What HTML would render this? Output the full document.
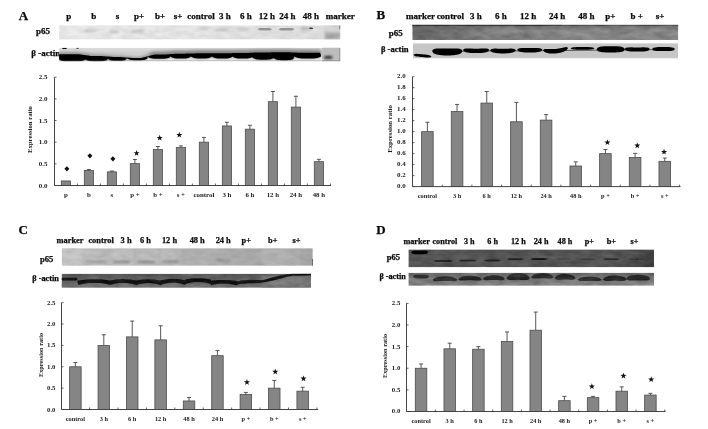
<!DOCTYPE html>
<html lang="en"><head><meta charset="utf-8"><title>p65 expression</title>
<style>
html,body{margin:0;padding:0;background:#fff;}
body{width:708px;height:429px;overflow:hidden;}
svg{display:block;}
text{font-family:"Liberation Serif","Times New Roman",serif;font-weight:bold;fill:#0a0a0a;stroke:#0a0a0a;stroke-width:0.25px;}
text.s{stroke:none;fill:#1a1a1a;}
</style></head><body>
<svg width="708" height="429" viewBox="0 0 708 429">
<defs>
<filter id="b05" x="-20%" y="-60%" width="140%" height="220%"><feGaussianBlur stdDeviation="0.5"/></filter>
<filter id="b1" x="-20%" y="-80%" width="140%" height="260%"><feGaussianBlur stdDeviation="0.9"/></filter>
<filter id="b2" x="-20%" y="-100%" width="140%" height="300%"><feGaussianBlur stdDeviation="1.6"/></filter>
<filter id="nz" x="0" y="0" width="100%" height="100%"><feTurbulence type="fractalNoise" baseFrequency="0.09 0.22" numOctaves="3" seed="7" result="t"/><feColorMatrix in="t" type="matrix" values="0 0 0 0 0  0 0 0 0 0  0 0 0 0 0  1.6 0 0 0 -0.45"/></filter>
<filter id="nzw" x="0" y="0" width="100%" height="100%"><feTurbulence type="fractalNoise" baseFrequency="0.07 0.18" numOctaves="3" seed="23" result="t"/><feColorMatrix in="t" type="matrix" values="0 0 0 0 1  0 0 0 0 1  0 0 0 0 1  1.6 0 0 0 -0.45"/></filter>
<linearGradient id="gAp" x1="0" x2="1" y1="0" y2="0"><stop offset="0" stop-color="#ececec"/><stop offset="0.5" stop-color="#e6e6e6"/><stop offset="1" stop-color="#dedede"/></linearGradient>
<linearGradient id="gAb" x1="0" x2="0" y1="0" y2="1"><stop offset="0" stop-color="#dcdcdc"/><stop offset="0.4" stop-color="#cfcfcf"/><stop offset="0.6" stop-color="#e0e0e0"/><stop offset="1" stop-color="#f4f4f4"/></linearGradient>
<linearGradient id="gBp" x1="0" x2="1" y1="0" y2="0"><stop offset="0" stop-color="#6e6e6e"/><stop offset="0.4" stop-color="#858585"/><stop offset="1" stop-color="#8e8e8e"/></linearGradient>
<linearGradient id="gBpt" x1="0" x2="0" y1="0" y2="1"><stop offset="0" stop-color="#222" stop-opacity="0.9"/><stop offset="0.12" stop-color="#444" stop-opacity="0.35"/><stop offset="0.4" stop-color="#555" stop-opacity="0"/><stop offset="1" stop-color="#666" stop-opacity="0.1"/></linearGradient>
<linearGradient id="gCp" x1="0" x2="1" y1="0" y2="0"><stop offset="0" stop-color="#c2c2c2"/><stop offset="0.5" stop-color="#b2b2b2"/><stop offset="1" stop-color="#a6a6a6"/></linearGradient>
<linearGradient id="gCb" x1="0" x2="0" y1="0" y2="1"><stop offset="0" stop-color="#585858"/><stop offset="1" stop-color="#686868"/></linearGradient>
<linearGradient id="gDp" x1="0" x2="1" y1="0" y2="0"><stop offset="0" stop-color="#565656"/><stop offset="0.85" stop-color="#555"/><stop offset="1" stop-color="#424242"/></linearGradient>
<linearGradient id="gDb" x1="0" x2="0" y1="0" y2="1"><stop offset="0" stop-color="#686868"/><stop offset="1" stop-color="#868686"/></linearGradient>
</defs>
<rect width="708" height="429" fill="#fff"/>

<text x="18.8" y="19.6" font-size="13">A</text>
<text x="68.7" y="19.2" font-size="9" text-anchor="middle">p</text>
<text x="93.7" y="19.2" font-size="9" text-anchor="middle">b</text>
<text x="117.5" y="19.2" font-size="9" text-anchor="middle">s</text>
<text x="139.0" y="19.2" font-size="9" text-anchor="middle">p+</text>
<text x="160.0" y="19.2" font-size="9" text-anchor="middle">b+</text>
<text x="178.0" y="19.2" font-size="9" text-anchor="middle">s+</text>
<text x="201.0" y="19.2" font-size="9" text-anchor="middle">control</text>
<text x="225.0" y="19.2" font-size="9" text-anchor="middle">3 h</text>
<text x="246.0" y="19.2" font-size="9" text-anchor="middle">6 h</text>
<text x="267.0" y="19.2" font-size="9" text-anchor="middle">12 h</text>
<text x="287.3" y="19.2" font-size="9" text-anchor="middle">24 h</text>
<text x="311.0" y="19.2" font-size="9" text-anchor="middle">48 h</text>
<text x="340.3" y="19.2" font-size="9" text-anchor="middle">marker</text>
<text x="36.0" y="34.4" font-size="9">p65</text>
<text x="31.3" y="56.2" font-size="9">β -actin</text>
<clipPath id="c1"><rect x="59.1" y="25.3" width="281.2" height="14.2"/></clipPath>
<g clip-path="url(#c1)"><rect x="59.1" y="25.3" width="281.2" height="14.2" fill="url(#gAp)"/>
<polygon points="84.0,30.7 85.6,29.6 87.2,29.4 88.9,29.4 90.5,29.4 92.1,29.4 93.8,29.4 95.4,29.6 97.0,30.7 97.0,30.7 95.4,31.8 93.8,32.0 92.1,32.0 90.5,32.0 88.9,32.0 87.2,32.0 85.6,31.8 84.0,30.7" fill="#c6c6c6" filter="url(#b1)"/>
<polygon points="109.0,31.7 110.6,30.6 112.1,30.4 113.7,30.4 115.3,30.4 116.9,30.4 118.4,30.6 120.0,31.7 120.0,31.7 118.4,32.8 116.9,33.0 115.3,33.0 113.7,33.0 112.1,33.0 110.6,32.8 109.0,31.7" fill="#c4c4c4" filter="url(#b1)"/>
<polygon points="130.0,31.0 131.5,30.0 133.0,29.8 134.5,29.7 136.0,29.7 137.5,29.7 139.0,29.7 140.5,29.7 142.0,29.8 143.5,30.0 145.0,31.0 145.0,31.0 143.5,32.0 142.0,32.2 140.5,32.3 139.0,32.3 137.5,32.3 136.0,32.3 134.5,32.3 133.0,32.2 131.5,32.0 130.0,31.0" fill="#c2c2c2" filter="url(#b1)"/>
<polygon points="155.0,30.0 155.8,28.8 156.7,28.7 157.5,28.7 158.3,28.7 159.2,28.8 160.0,30.0 160.0,30.0 159.2,31.2 158.3,31.3 157.5,31.3 156.7,31.3 155.8,31.2 155.0,30.0" fill="#dcdcdc" filter="url(#b1)"/>
<polygon points="199.0,29.0 200.7,27.8 202.3,27.7 204.0,27.7 205.7,27.7 207.3,27.8 209.0,29.0 209.0,29.0 207.3,30.2 205.7,30.3 204.0,30.3 202.3,30.3 200.7,30.2 199.0,29.0" fill="#cecece" filter="url(#b1)"/>
<polygon points="215.0,30.0 216.6,29.0 218.1,28.8 219.7,28.7 221.2,28.7 222.8,28.7 224.3,28.7 225.9,28.8 227.4,29.0 229.0,30.0 229.0,30.0 227.4,31.0 225.9,31.2 224.3,31.3 222.8,31.3 221.2,31.3 219.7,31.3 218.1,31.2 216.6,31.0 215.0,30.0" fill="#c6c6c6" filter="url(#b1)"/>
<polygon points="236.0,29.5 237.6,28.5 239.1,28.3 240.7,28.2 242.2,28.2 243.8,28.2 245.3,28.2 246.9,28.3 248.4,28.5 250.0,29.5 250.0,29.5 248.4,30.5 246.9,30.7 245.3,30.8 243.8,30.8 242.2,30.8 240.7,30.8 239.1,30.7 237.6,30.5 236.0,29.5" fill="#d0d0d0" filter="url(#b1)"/>
<polygon points="300.0,29.0 301.5,27.9 303.0,27.7 304.5,27.7 306.0,27.7 307.5,27.7 309.0,27.7 310.5,27.9 312.0,29.0 312.0,29.0 310.5,30.1 309.0,30.3 307.5,30.3 306.0,30.3 304.5,30.3 303.0,30.3 301.5,30.1 300.0,29.0" fill="#bdbdbd" filter="url(#b1)"/>
<polygon points="257.5,29.3 259.1,28.3 260.7,28.1 262.3,28.0 263.9,28.0 265.6,28.0 267.2,28.0 268.8,28.1 270.4,28.3 272.0,29.3 272.0,29.3 270.4,30.3 268.8,30.5 267.2,30.6 265.6,30.6 263.9,30.6 262.3,30.6 260.7,30.5 259.1,30.3 257.5,29.3" fill="#909090" filter="url(#b05)"/>
<polygon points="278.5,29.3 280.1,28.3 281.7,28.1 283.3,28.0 284.9,28.0 286.5,28.0 288.1,28.0 289.7,28.0 291.3,28.1 292.9,28.3 294.5,29.3 294.5,29.3 292.9,30.3 291.3,30.5 289.7,30.6 288.1,30.6 286.5,30.6 284.9,30.6 283.3,30.6 281.7,30.5 280.1,30.3 278.5,29.3" fill="#909090" filter="url(#b05)"/>
<polygon points="309.0,28.3 309.7,27.7 310.4,27.6 311.1,27.6 311.9,27.6 312.6,27.7 313.3,28.3 313.3,28.3 312.6,28.9 311.9,29.0 311.1,29.0 310.4,29.0 309.7,28.9 309.0,28.3" fill="#333" filter="url(#b05)"/>
<rect x="324" y="25" width="17" height="15" fill="#d6d6d6" filter="url(#b1)"/>
<rect x="325" y="32.8" width="15" height="6" fill="#a4a4a4" filter="url(#b1)"/>
<rect x="339.6" y="25.3" width="0.8" height="4" fill="#333"/>
<rect x="59.1" y="25.3" width="281.2" height="14.2" filter="url(#nz)" opacity="0.07"/>
<rect x="59.1" y="25.3" width="281.2" height="14.2" filter="url(#nzw)" opacity="0.15"/>
</g>
<clipPath id="c2"><rect x="59.1" y="47.7" width="281.2" height="13.6"/></clipPath>
<g clip-path="url(#c2)"><rect x="59.1" y="47.7" width="281.2" height="13.6" fill="url(#gAb)"/>
<polygon points="59.0,52.6 60.0,52.6 61.0,52.6 62.0,52.6 63.1,52.6 64.1,52.6 65.1,52.6 66.1,52.6 67.1,52.6 68.1,52.6 69.2,52.6 70.2,52.6 71.2,52.6 72.2,52.6 73.2,52.6 74.2,52.6 75.2,52.6 76.3,52.6 77.3,52.6 78.3,52.6 79.3,52.7 80.3,52.9 81.3,53.0 82.4,53.2 83.4,53.3 84.4,53.4 85.4,53.6 86.4,53.7 87.5,53.8 88.5,54.0 89.5,54.1 90.5,54.3 91.6,54.4 92.6,54.4 93.6,54.4 94.6,54.4 95.7,54.4 96.7,54.4 97.7,54.4 98.8,54.4 99.8,54.4 100.8,54.4 101.8,54.5 102.9,54.6 103.9,54.6 104.9,54.7 105.9,54.8 107.0,54.9 108.0,54.9 109.0,55.0 110.0,55.1 111.0,55.2 112.0,55.2 113.0,55.3 114.0,55.4 115.0,55.4 116.0,55.4 117.0,55.4 118.0,55.4 119.0,55.4 120.0,55.4 121.0,55.5 122.0,55.6 123.0,55.6 124.0,55.7 125.0,55.8 126.0,55.9 127.0,55.9 128.0,56.0 129.0,56.1 130.0,56.2 131.0,56.2 132.0,56.3 133.0,56.4 134.0,56.4 135.0,56.4 136.0,56.4 137.0,56.4 138.0,56.4 139.0,56.4 140.0,56.4 141.0,56.4 142.0,56.1 143.0,55.9 144.0,55.6 145.0,55.4 146.0,55.1 147.0,54.8 148.0,54.6 149.0,54.3 150.0,52.4 151.1,52.2 152.1,51.9 153.1,51.7 154.1,51.4 155.2,51.4 156.2,51.4 157.2,51.4 158.2,51.4 159.2,51.4 160.3,51.4 161.3,51.4 162.3,51.4 163.3,51.4 164.4,51.3 165.4,51.3 166.4,51.2 167.4,51.1 168.5,51.1 169.5,51.0 170.5,50.9 171.5,50.8 172.6,50.8 173.6,50.7 174.6,50.6 175.6,50.6 176.7,50.5 177.7,50.5 178.7,50.5 179.7,50.5 180.8,50.5 181.8,50.5 182.8,50.5 183.8,50.5 184.8,50.5 185.9,50.4 186.9,50.4 187.9,50.4 188.9,50.3 190.0,50.3 191.0,50.3 192.0,50.3 193.0,50.2 194.0,50.2 195.0,50.2 196.0,50.1 197.0,50.1 198.0,50.1 199.0,50.1 200.0,50.1 201.0,50.1 202.0,50.1 203.0,50.1 204.0,50.1 205.0,50.1 206.0,50.1 207.0,50.1 208.0,50.1 209.0,50.1 210.0,50.1 211.0,50.1 212.0,50.1 213.0,50.1 214.1,50.1 215.1,50.1 216.1,50.1 217.2,50.1 218.2,50.1 219.2,50.1 220.2,50.1 221.3,50.1 222.3,50.1 223.3,50.1 224.4,50.1 225.4,50.1 226.4,50.1 227.4,50.1 228.5,50.0 229.5,50.0 230.5,50.0 231.6,50.0 232.6,49.9 233.6,49.9 234.6,49.9 235.6,49.9 236.6,49.8 237.7,49.8 238.7,49.8 239.7,49.8 240.7,49.8 241.7,49.8 242.7,49.8 243.7,49.8 244.7,49.8 245.7,49.8 246.7,49.8 247.8,49.7 248.8,49.7 249.8,49.6 250.8,49.6 251.8,49.5 252.8,49.5 253.8,49.4 254.8,49.4 255.8,49.3 256.8,49.3 257.8,49.2 258.9,49.2 259.9,49.2 260.9,49.2 261.9,49.2 262.9,49.2 263.9,49.2 264.9,49.2 265.9,49.2 266.9,49.2 267.9,49.2 269.0,49.2 270.0,49.2 271.0,49.1 272.0,49.1 273.0,49.1 274.0,49.1 275.0,49.1 276.0,49.1 277.1,49.0 278.1,49.0 279.1,49.0 280.1,49.0 281.1,49.0 282.2,49.0 283.2,49.0 284.2,49.0 285.2,49.0 286.2,49.0 287.3,49.0 288.3,49.0 289.3,49.1 290.3,49.1 291.3,49.2 292.4,49.2 293.4,49.3 294.4,49.3 295.4,49.4 296.4,49.4 297.5,49.5 298.5,49.5 299.5,49.6 300.5,49.6 301.6,49.6 302.6,49.6 303.6,49.6 304.6,49.6 305.7,49.6 306.7,49.6 307.7,49.6 308.7,49.6 309.7,49.6 310.8,49.6 311.8,49.6 312.8,49.6 313.8,49.6 314.9,49.6 315.9,49.6 316.9,49.6 317.9,49.6 319.0,49.6 320.0,49.6 321.0,51.8 321.0,56.5 320.0,57.0 319.0,57.5 317.9,57.8 316.9,58.0 315.9,58.2 314.9,58.3 313.8,58.4 312.8,58.5 311.8,58.5 310.8,58.5 309.7,58.5 308.7,58.5 307.7,58.5 306.7,58.5 305.7,58.5 304.6,58.5 303.6,58.5 302.6,58.5 301.6,58.4 300.5,58.3 299.5,58.2 298.5,58.0 297.5,57.8 296.4,57.5 295.4,57.0 294.4,56.5 293.4,58.9 292.4,59.4 291.3,59.7 290.3,59.9 289.3,60.1 288.3,60.1 287.3,60.2 286.2,60.2 285.2,60.2 284.2,60.2 283.2,60.2 282.2,60.2 281.1,60.2 280.1,60.1 279.1,60.1 278.1,59.9 277.1,59.7 276.0,59.4 275.0,58.9 274.0,58.2 273.0,58.4 272.0,58.8 271.0,59.2 270.0,59.4 269.0,59.5 267.9,59.6 266.9,59.7 265.9,59.7 264.9,59.7 263.9,59.7 262.9,59.7 261.9,59.7 260.9,59.7 259.9,59.7 258.9,59.6 257.8,59.5 256.8,59.4 255.8,59.2 254.8,58.8 253.8,58.4 252.8,57.7 251.8,57.3 250.8,57.8 249.8,58.1 248.8,58.3 247.8,58.5 246.7,58.5 245.7,58.6 244.7,58.6 243.7,58.6 242.7,58.6 241.7,58.6 240.7,58.6 239.7,58.6 238.7,58.5 237.7,58.5 236.6,58.3 235.6,58.1 234.6,57.8 233.6,57.3 232.6,56.6 231.6,57.2 230.5,57.7 229.5,58.0 228.5,58.2 227.4,58.4 226.4,58.4 225.4,58.5 224.4,58.5 223.3,58.5 222.3,58.5 221.3,58.5 220.2,58.5 219.2,58.5 218.2,58.4 217.2,58.4 216.1,58.2 215.1,58.0 214.1,57.7 213.0,57.2 212.0,56.5 211.0,57.2 210.0,57.6 209.0,58.0 208.0,58.2 207.0,58.3 206.0,58.4 205.0,58.5 204.0,58.5 203.0,58.5 202.0,58.5 201.0,58.5 200.0,58.5 199.0,58.5 198.0,58.5 197.0,58.4 196.0,58.3 195.0,58.2 194.0,58.0 193.0,57.6 192.0,57.2 191.0,56.5 190.0,57.2 188.9,57.7 187.9,58.0 186.9,58.2 185.9,58.4 184.8,58.4 183.8,58.5 182.8,58.5 181.8,58.5 180.8,58.5 179.7,58.5 178.7,58.5 177.7,58.5 176.7,58.4 175.6,58.4 174.6,58.2 173.6,58.0 172.6,57.7 171.5,57.2 170.5,56.5 169.5,57.4 168.5,57.9 167.4,58.2 166.4,58.5 165.4,58.6 164.4,58.7 163.3,58.8 162.3,58.8 161.3,58.8 160.3,58.8 159.2,58.8 158.2,58.8 157.2,58.8 156.2,58.8 155.2,58.8 154.1,58.7 153.1,58.6 152.1,58.5 151.1,58.2 150.0,57.9 149.0,57.4 148.0,56.8 147.0,58.9 146.0,59.3 145.0,59.7 144.0,59.9 143.0,60.0 142.0,60.1 141.0,60.2 140.0,60.2 139.0,60.2 138.0,60.2 137.0,60.2 136.0,60.2 135.0,60.2 134.0,60.2 133.0,60.1 132.0,60.0 131.0,59.9 130.0,59.7 129.0,59.3 128.0,58.9 127.0,58.2 126.0,59.5 125.0,60.0 124.0,60.4 123.0,60.6 122.0,60.7 121.0,60.8 120.0,60.8 119.0,60.8 118.0,60.8 117.0,60.8 116.0,60.8 115.0,60.8 114.0,60.8 113.0,60.7 112.0,60.6 111.0,60.4 110.0,60.0 109.0,59.5 108.0,58.8 107.0,60.0 105.9,60.5 104.9,60.8 103.9,61.1 102.9,61.2 101.8,61.3 100.8,61.4 99.8,61.4 98.8,61.4 97.7,61.4 96.7,61.4 95.7,61.4 94.6,61.4 93.6,61.4 92.6,61.4 91.6,61.3 90.5,61.2 89.5,61.1 88.5,60.8 87.5,60.5 86.4,60.0 85.4,59.4 84.4,60.1 83.4,60.6 82.4,60.9 81.3,61.1 80.3,61.3 79.3,61.4 78.3,61.5 77.3,61.6 76.3,61.6 75.2,61.6 74.2,61.6 73.2,61.6 72.2,61.6 71.2,61.6 70.2,61.6 69.2,61.6 68.1,61.6 67.1,61.6 66.1,61.5 65.1,61.4 64.1,61.3 63.1,61.1 62.0,60.9 61.0,60.6 60.0,60.1 59.0,59.6" fill="#555" opacity="0.6" filter="url(#b2)"/>
<polygon points="59.0,54.2 60.0,54.2 61.0,54.2 62.0,54.2 63.1,54.2 64.1,54.2 65.1,54.2 66.1,54.2 67.1,54.2 68.1,54.2 69.2,54.2 70.2,54.2 71.2,54.2 72.2,54.2 73.2,54.2 74.2,54.2 75.2,54.2 76.3,54.2 77.3,54.2 78.3,54.2 79.3,54.3 80.3,54.5 81.3,54.6 82.4,54.8 83.4,54.9 84.4,55.0 85.4,55.2 86.4,55.3 87.5,55.4 88.5,55.6 89.5,55.7 90.5,55.9 91.6,56.0 92.6,56.0 93.6,56.0 94.6,56.0 95.7,56.0 96.7,56.0 97.7,56.0 98.8,56.0 99.8,56.0 100.8,56.0 101.8,56.1 102.9,56.2 103.9,56.2 104.9,56.3 105.9,56.4 107.0,56.5 108.0,56.5 109.0,56.6 110.0,56.7 111.0,56.8 112.0,56.8 113.0,56.9 114.0,57.0 115.0,57.0 116.0,57.0 117.0,57.0 118.0,57.0 119.0,57.0 120.0,57.0 121.0,57.1 122.0,57.2 123.0,57.2 124.0,57.3 125.0,57.4 126.0,57.5 127.0,57.5 128.0,57.6 129.0,57.7 130.0,57.8 131.0,57.8 132.0,57.9 133.0,58.0 134.0,58.0 135.0,58.0 136.0,58.0 137.0,58.0 138.0,58.0 139.0,58.0 140.0,58.0 141.0,58.0 142.0,57.7 143.0,57.5 144.0,57.2 145.0,57.0 146.0,56.7 147.0,56.4 148.0,56.2 149.0,55.9 150.0,55.6 151.1,55.4 152.1,55.1 153.1,54.9 154.1,54.6 155.2,54.6 156.2,54.6 157.2,54.6 158.2,54.6 159.2,54.6 160.3,54.6 161.3,54.6 162.3,54.6 163.3,54.6 164.4,54.5 165.4,54.5 166.4,54.4 167.4,54.3 168.5,54.3 169.5,54.2 170.5,54.1 171.5,54.0 172.6,54.0 173.6,53.9 174.6,53.8 175.6,53.8 176.7,53.7 177.7,53.7 178.7,53.7 179.7,53.7 180.8,53.7 181.8,53.7 182.8,53.7 183.8,53.7 184.8,53.7 185.9,53.6 186.9,53.6 187.9,53.6 188.9,53.5 190.0,53.5 191.0,53.5 192.0,53.5 193.0,53.4 194.0,53.4 195.0,53.4 196.0,53.3 197.0,53.3 198.0,53.3 199.0,53.3 200.0,53.3 201.0,53.3 202.0,53.3 203.0,53.3 204.0,53.3 205.0,53.3 206.0,53.3 207.0,53.3 208.0,53.3 209.0,53.3 210.0,53.3 211.0,53.3 212.0,53.3 213.0,53.3 214.1,53.3 215.1,53.3 216.1,53.3 217.2,53.3 218.2,53.3 219.2,53.3 220.2,53.3 221.3,53.3 222.3,53.3 223.3,53.3 224.4,53.3 225.4,53.3 226.4,53.3 227.4,53.3 228.5,53.2 229.5,53.2 230.5,53.2 231.6,53.2 232.6,53.1 233.6,53.1 234.6,53.1 235.6,53.1 236.6,53.0 237.7,53.0 238.7,53.0 239.7,53.0 240.7,53.0 241.7,53.0 242.7,53.0 243.7,53.0 244.7,53.0 245.7,53.0 246.7,53.0 247.8,52.9 248.8,52.9 249.8,52.8 250.8,52.8 251.8,52.7 252.8,52.7 253.8,52.6 254.8,52.6 255.8,52.5 256.8,52.5 257.8,52.4 258.9,52.4 259.9,52.4 260.9,52.4 261.9,52.4 262.9,52.4 263.9,52.4 264.9,52.4 265.9,52.4 266.9,52.4 267.9,52.4 269.0,52.4 270.0,52.4 271.0,52.3 272.0,52.3 273.0,52.3 274.0,52.3 275.0,52.3 276.0,52.3 277.1,52.2 278.1,52.2 279.1,52.2 280.1,52.2 281.1,52.2 282.2,52.2 283.2,52.2 284.2,52.2 285.2,52.2 286.2,52.2 287.3,52.2 288.3,52.2 289.3,52.3 290.3,52.3 291.3,52.4 292.4,52.4 293.4,52.5 294.4,52.5 295.4,52.6 296.4,52.6 297.5,52.7 298.5,52.7 299.5,52.8 300.5,52.8 301.6,52.8 302.6,52.8 303.6,52.8 304.6,52.8 305.7,52.8 306.7,52.8 307.7,52.8 308.7,52.8 309.7,52.8 310.8,52.8 311.8,52.8 312.8,52.8 313.8,52.8 314.9,52.8 315.9,52.8 316.9,52.8 317.9,52.8 319.0,52.8 320.0,52.8 321.0,55.0 321.0,56.5 320.0,57.0 319.0,57.5 317.9,57.8 316.9,58.0 315.9,58.2 314.9,58.3 313.8,58.4 312.8,58.5 311.8,58.5 310.8,58.5 309.7,58.5 308.7,58.5 307.7,58.5 306.7,58.5 305.7,58.5 304.6,58.5 303.6,58.5 302.6,58.5 301.6,58.4 300.5,58.3 299.5,58.2 298.5,58.0 297.5,57.8 296.4,57.5 295.4,57.0 294.4,56.5 293.4,58.9 292.4,59.4 291.3,59.7 290.3,59.9 289.3,60.1 288.3,60.1 287.3,60.2 286.2,60.2 285.2,60.2 284.2,60.2 283.2,60.2 282.2,60.2 281.1,60.2 280.1,60.1 279.1,60.1 278.1,59.9 277.1,59.7 276.0,59.4 275.0,58.9 274.0,58.2 273.0,58.4 272.0,58.8 271.0,59.2 270.0,59.4 269.0,59.5 267.9,59.6 266.9,59.7 265.9,59.7 264.9,59.7 263.9,59.7 262.9,59.7 261.9,59.7 260.9,59.7 259.9,59.7 258.9,59.6 257.8,59.5 256.8,59.4 255.8,59.2 254.8,58.8 253.8,58.4 252.8,57.7 251.8,57.3 250.8,57.8 249.8,58.1 248.8,58.3 247.8,58.5 246.7,58.5 245.7,58.6 244.7,58.6 243.7,58.6 242.7,58.6 241.7,58.6 240.7,58.6 239.7,58.6 238.7,58.5 237.7,58.5 236.6,58.3 235.6,58.1 234.6,57.8 233.6,57.3 232.6,56.6 231.6,57.2 230.5,57.7 229.5,58.0 228.5,58.2 227.4,58.4 226.4,58.4 225.4,58.5 224.4,58.5 223.3,58.5 222.3,58.5 221.3,58.5 220.2,58.5 219.2,58.5 218.2,58.4 217.2,58.4 216.1,58.2 215.1,58.0 214.1,57.7 213.0,57.2 212.0,56.5 211.0,57.2 210.0,57.6 209.0,58.0 208.0,58.2 207.0,58.3 206.0,58.4 205.0,58.5 204.0,58.5 203.0,58.5 202.0,58.5 201.0,58.5 200.0,58.5 199.0,58.5 198.0,58.5 197.0,58.4 196.0,58.3 195.0,58.2 194.0,58.0 193.0,57.6 192.0,57.2 191.0,56.5 190.0,57.2 188.9,57.7 187.9,58.0 186.9,58.2 185.9,58.4 184.8,58.4 183.8,58.5 182.8,58.5 181.8,58.5 180.8,58.5 179.7,58.5 178.7,58.5 177.7,58.5 176.7,58.4 175.6,58.4 174.6,58.2 173.6,58.0 172.6,57.7 171.5,57.2 170.5,56.5 169.5,57.4 168.5,57.9 167.4,58.2 166.4,58.5 165.4,58.6 164.4,58.7 163.3,58.8 162.3,58.8 161.3,58.8 160.3,58.8 159.2,58.8 158.2,58.8 157.2,58.8 156.2,58.8 155.2,58.8 154.1,58.7 153.1,58.6 152.1,58.5 151.1,58.2 150.0,57.9 149.0,57.4 148.0,56.8 147.0,58.9 146.0,59.3 145.0,59.7 144.0,59.9 143.0,60.0 142.0,60.1 141.0,60.2 140.0,60.2 139.0,60.2 138.0,60.2 137.0,60.2 136.0,60.2 135.0,60.2 134.0,60.2 133.0,60.1 132.0,60.0 131.0,59.9 130.0,59.7 129.0,59.3 128.0,58.9 127.0,58.2 126.0,59.5 125.0,60.0 124.0,60.4 123.0,60.6 122.0,60.7 121.0,60.8 120.0,60.8 119.0,60.8 118.0,60.8 117.0,60.8 116.0,60.8 115.0,60.8 114.0,60.8 113.0,60.7 112.0,60.6 111.0,60.4 110.0,60.0 109.0,59.5 108.0,58.8 107.0,60.0 105.9,60.5 104.9,60.8 103.9,61.1 102.9,61.2 101.8,61.3 100.8,61.4 99.8,61.4 98.8,61.4 97.7,61.4 96.7,61.4 95.7,61.4 94.6,61.4 93.6,61.4 92.6,61.4 91.6,61.3 90.5,61.2 89.5,61.1 88.5,60.8 87.5,60.5 86.4,60.0 85.4,59.4 84.4,60.1 83.4,60.6 82.4,60.9 81.3,61.1 80.3,61.3 79.3,61.4 78.3,61.5 77.3,61.6 76.3,61.6 75.2,61.6 74.2,61.6 73.2,61.6 72.2,61.6 71.2,61.6 70.2,61.6 69.2,61.6 68.1,61.6 67.1,61.6 66.1,61.5 65.1,61.4 64.1,61.3 63.1,61.1 62.0,60.9 61.0,60.6 60.0,60.1 59.0,59.6" fill="#000" filter="url(#b05)"/>
<rect x="322.3" y="47" width="19" height="15" fill="#bdbdbd"/>
<polygon points="323.5,57.3 325.1,55.9 326.7,55.7 328.2,55.7 329.8,55.7 331.4,55.9 333.0,57.3 333.0,57.3 331.4,58.7 329.8,58.9 328.2,58.9 326.7,58.9 325.1,58.7 323.5,57.3" fill="#3a3a3a" filter="url(#b1)"/>
<path d="M59 61H340M339.9 47.7V61.3" stroke="#666" stroke-width="0.6" fill="none"/>
<polygon points="62.0,48.4 62.8,47.8 63.7,47.7 64.5,47.7 65.3,47.7 66.2,47.8 67.0,48.4 67.0,48.4 66.2,49.0 65.3,49.1 64.5,49.1 63.7,49.1 62.8,49.0 62.0,48.4" fill="#111" filter="url(#b05)"/>
<polygon points="76.0,48.2 76.5,47.8 77.0,47.7 77.5,47.7 78.0,47.7 78.5,47.8 79.0,48.2 79.0,48.2 78.5,48.6 78.0,48.7 77.5,48.7 77.0,48.7 76.5,48.6 76.0,48.2" fill="#222" filter="url(#b05)"/>
</g>
<text x="376.4" y="19.4" font-size="13">B</text>
<text x="420.6" y="19.4" font-size="9" text-anchor="middle">marker</text>
<text x="450.3" y="19.4" font-size="9" text-anchor="middle">control</text>
<text x="476.0" y="19.4" font-size="9" text-anchor="middle">3 h</text>
<text x="500.8" y="19.4" font-size="9" text-anchor="middle">6 h</text>
<text x="528.2" y="19.4" font-size="9" text-anchor="middle">12 h</text>
<text x="557.2" y="19.4" font-size="9" text-anchor="middle">24 h</text>
<text x="586.5" y="19.4" font-size="9" text-anchor="middle">48 h</text>
<text x="610.3" y="19.4" font-size="9" text-anchor="middle">p+</text>
<text x="636.8" y="19.4" font-size="9" text-anchor="middle">b +</text>
<text x="660.0" y="19.4" font-size="9" text-anchor="middle">s+</text>
<text x="388.7" y="36.0" font-size="9">p65</text>
<text x="380.9" y="52.3" font-size="8.6">β -actin</text>
<clipPath id="c3"><rect x="412.3" y="24.7" width="265.9" height="15.3"/></clipPath>
<g clip-path="url(#c3)"><rect x="412.3" y="24.7" width="265.9" height="15.3" fill="url(#gBp)"/>
<rect x="412" y="24.7" width="267" height="15.3" fill="url(#gBpt)"/>
<rect x="412" y="24.5" width="150" height="1.1" fill="#111" opacity="0.8"/>
<rect x="562" y="24.5" width="117" height="1.1" fill="#333" opacity="0.4"/>
<polygon points="414.0,33.0 415.5,30.8 417.1,30.2 418.6,29.8 420.1,29.6 421.6,29.6 423.2,29.5 424.7,29.5 426.2,29.5 427.8,29.5 429.3,29.5 430.8,29.5 432.4,29.6 433.9,29.6 435.4,29.8 436.9,30.2 438.5,30.8 440.0,33.0 440.0,33.0 438.5,35.2 436.9,35.8 435.4,36.2 433.9,36.4 432.4,36.4 430.8,36.5 429.3,36.5 427.8,36.5 426.2,36.5 424.7,36.5 423.2,36.5 421.6,36.4 420.1,36.4 418.6,36.2 417.1,35.8 415.5,35.2 414.0,33.0" fill="#555" opacity="0.5" filter="url(#b2)"/>
<polygon points="440.0,35.0 441.5,32.9 443.0,32.3 444.5,31.9 446.0,31.7 447.5,31.6 449.0,31.5 450.5,31.5 452.0,31.5 453.5,31.5 455.0,31.5 456.5,31.5 458.0,31.5 459.5,31.5 461.0,31.5 462.5,31.6 464.0,31.7 465.5,31.9 467.0,32.3 468.5,32.9 470.0,35.0 470.0,35.0 468.5,37.1 467.0,37.7 465.5,38.1 464.0,38.3 462.5,38.4 461.0,38.5 459.5,38.5 458.0,38.5 456.5,38.5 455.0,38.5 453.5,38.5 452.0,38.5 450.5,38.5 449.0,38.5 447.5,38.4 446.0,38.3 444.5,38.1 443.0,37.7 441.5,37.1 440.0,35.0" fill="#666" opacity="0.4" filter="url(#b2)"/>
<polygon points="480.0,31.0 481.5,29.2 483.1,28.6 484.6,28.2 486.2,27.9 487.7,27.8 489.2,27.7 490.8,27.6 492.3,27.5 493.8,27.5 495.4,27.5 496.9,27.5 498.5,27.5 500.0,27.5 501.5,27.5 503.1,27.5 504.6,27.5 506.2,27.5 507.7,27.5 509.2,27.6 510.8,27.7 512.3,27.8 513.8,27.9 515.4,28.2 516.9,28.6 518.5,29.2 520.0,31.0 520.0,31.0 518.5,32.8 516.9,33.4 515.4,33.8 513.8,34.1 512.3,34.2 510.8,34.3 509.2,34.4 507.7,34.5 506.2,34.5 504.6,34.5 503.1,34.5 501.5,34.5 500.0,34.5 498.5,34.5 496.9,34.5 495.4,34.5 493.8,34.5 492.3,34.5 490.8,34.4 489.2,34.3 487.7,34.2 486.2,34.1 484.6,33.8 483.1,33.4 481.5,32.8 480.0,31.0" fill="#999" opacity="0.35" filter="url(#b2)"/>
<polygon points="500.0,36.0 501.5,33.9 503.0,33.3 504.5,32.9 506.0,32.7 507.5,32.6 509.0,32.5 510.5,32.5 512.0,32.5 513.5,32.5 515.0,32.5 516.5,32.5 518.0,32.5 519.5,32.5 521.0,32.5 522.5,32.6 524.0,32.7 525.5,32.9 527.0,33.3 528.5,33.9 530.0,36.0 530.0,36.0 528.5,38.1 527.0,38.7 525.5,39.1 524.0,39.3 522.5,39.4 521.0,39.5 519.5,39.5 518.0,39.5 516.5,39.5 515.0,39.5 513.5,39.5 512.0,39.5 510.5,39.5 509.0,39.5 507.5,39.4 506.0,39.3 504.5,39.1 503.0,38.7 501.5,38.1 500.0,36.0" fill="#666" opacity="0.3" filter="url(#b2)"/>
<polygon points="560.0,33.0 561.5,31.2 563.1,30.6 564.6,30.2 566.2,29.9 567.7,29.8 569.2,29.7 570.8,29.6 572.3,29.5 573.8,29.5 575.4,29.5 576.9,29.5 578.5,29.5 580.0,29.5 581.5,29.5 583.1,29.5 584.6,29.5 586.2,29.5 587.7,29.5 589.2,29.6 590.8,29.7 592.3,29.8 593.8,29.9 595.4,30.2 596.9,30.6 598.5,31.2 600.0,33.0 600.0,33.0 598.5,34.8 596.9,35.4 595.4,35.8 593.8,36.1 592.3,36.2 590.8,36.3 589.2,36.4 587.7,36.5 586.2,36.5 584.6,36.5 583.1,36.5 581.5,36.5 580.0,36.5 578.5,36.5 576.9,36.5 575.4,36.5 573.8,36.5 572.3,36.5 570.8,36.4 569.2,36.3 567.7,36.2 566.2,36.1 564.6,35.8 563.1,35.4 561.5,34.8 560.0,33.0" fill="#9a9a9a" opacity="0.4" filter="url(#b2)"/>
<polygon points="600.0,30.0 601.5,28.2 603.1,27.6 604.6,27.2 606.2,26.9 607.7,26.8 609.2,26.7 610.8,26.6 612.3,26.5 613.8,26.5 615.4,26.5 616.9,26.5 618.5,26.5 620.0,26.5 621.5,26.5 623.1,26.5 624.6,26.5 626.2,26.5 627.7,26.5 629.2,26.6 630.8,26.7 632.3,26.8 633.8,26.9 635.4,27.2 636.9,27.6 638.5,28.2 640.0,30.0 640.0,30.0 638.5,31.8 636.9,32.4 635.4,32.8 633.8,33.1 632.3,33.2 630.8,33.3 629.2,33.4 627.7,33.5 626.2,33.5 624.6,33.5 623.1,33.5 621.5,33.5 620.0,33.5 618.5,33.5 616.9,33.5 615.4,33.5 613.8,33.5 612.3,33.5 610.8,33.4 609.2,33.3 607.7,33.2 606.2,33.1 604.6,32.8 603.1,32.4 601.5,31.8 600.0,30.0" fill="#7a7a7a" opacity="0.35" filter="url(#b2)"/>
<polygon points="640.0,35.0 641.5,33.1 643.0,32.5 644.5,32.1 646.0,31.9 647.5,31.7 649.0,31.6 650.5,31.6 652.0,31.5 653.5,31.5 655.0,31.5 656.5,31.5 658.0,31.5 659.5,31.5 661.0,31.5 662.5,31.5 664.0,31.5 665.5,31.6 667.0,31.6 668.5,31.7 670.0,31.9 671.5,32.1 673.0,32.5 674.5,33.1 676.0,35.0 676.0,35.0 674.5,36.9 673.0,37.5 671.5,37.9 670.0,38.1 668.5,38.3 667.0,38.4 665.5,38.4 664.0,38.5 662.5,38.5 661.0,38.5 659.5,38.5 658.0,38.5 656.5,38.5 655.0,38.5 653.5,38.5 652.0,38.5 650.5,38.4 649.0,38.4 647.5,38.3 646.0,38.1 644.5,37.9 643.0,37.5 641.5,36.9 640.0,35.0" fill="#808080" opacity="0.4" filter="url(#b2)"/>
<rect x="412.3" y="24.7" width="265.9" height="15.3" filter="url(#nz)" opacity="0.16"/>
<rect x="412.3" y="24.7" width="265.9" height="15.3" filter="url(#nzw)" opacity="0.14"/>
</g>
<clipPath id="c4"><rect x="413" y="43.2" width="265.2" height="15.4"/></clipPath>
<g clip-path="url(#c4)"><rect x="413" y="43.2" width="265.2" height="15.4" fill="#c6c6c6"/>
<polygon points="413.3,54.8 414.8,53.9 416.3,53.8 417.9,53.9 419.4,54.0 420.9,54.2 422.4,54.3 423.9,54.5 425.4,54.6 426.9,54.8 428.5,55.0 430.0,55.4 431.5,56.6 431.5,56.6 430.0,57.5 428.5,57.6 426.9,57.5 425.4,57.4 423.9,57.2 422.4,57.1 420.9,56.9 419.4,56.8 417.9,56.6 416.3,56.4 414.8,56.0 413.3,54.8" fill="#000" filter="url(#b05)"/>
<polygon points="432.0,51.0 433.5,49.2 435.1,48.7 436.6,48.5 438.1,48.5 439.6,48.5 441.2,48.5 442.7,48.5 444.2,48.6 445.8,48.6 447.3,48.6 448.8,48.6 450.4,48.6 451.9,48.5 453.4,48.5 455.0,48.5 456.5,48.5 458.0,48.5 459.5,48.7 461.1,49.2 462.6,51.0 462.6,51.0 461.1,53.2 459.5,54.0 458.0,54.5 456.5,54.8 455.0,55.0 453.4,55.2 451.9,55.3 450.4,55.4 448.8,55.4 447.3,55.4 445.8,55.4 444.2,55.4 442.7,55.3 441.2,55.2 439.6,55.0 438.1,54.8 436.6,54.5 435.1,54.0 433.5,53.2 432.0,51.0" fill="#000" filter="url(#b05)"/>
<polygon points="462.8,50.0 464.4,48.8 465.9,48.6 467.5,48.5 469.1,48.5 470.7,48.6 472.2,48.6 473.8,48.7 475.4,48.7 476.9,48.7 478.5,48.7 480.1,48.6 481.6,48.6 483.2,48.5 484.8,48.5 486.4,48.6 487.9,48.8 489.5,50.0 489.5,50.0 487.9,51.6 486.4,52.2 484.8,52.5 483.2,52.8 481.6,52.9 480.1,53.0 478.5,53.1 476.9,53.1 475.4,53.1 473.8,53.1 472.2,53.0 470.7,52.9 469.1,52.8 467.5,52.5 465.9,52.2 464.4,51.6 462.8,50.0" fill="#000" filter="url(#b05)"/>
<polygon points="490.0,50.2 491.5,49.0 493.1,48.7 494.6,48.6 496.1,48.6 497.6,48.7 499.2,48.7 500.7,48.8 502.2,48.8 503.8,48.8 505.3,48.8 506.8,48.7 508.4,48.7 509.9,48.6 511.4,48.6 512.9,48.7 514.5,49.0 516.0,50.2 516.0,50.2 514.5,51.8 512.9,52.4 511.4,52.8 509.9,53.1 508.4,53.2 506.8,53.3 505.3,53.4 503.8,53.4 502.2,53.4 500.7,53.4 499.2,53.3 497.6,53.2 496.1,53.1 494.6,52.8 493.1,52.4 491.5,51.8 490.0,50.2" fill="#000" filter="url(#b05)"/>
<polygon points="517.0,49.7 518.5,48.5 520.0,48.2 521.5,48.1 523.0,48.0 524.5,48.0 526.0,48.1 527.5,48.1 529.0,48.1 530.5,48.1 532.0,48.1 533.5,48.1 535.0,48.0 536.5,48.0 538.0,48.1 539.5,48.2 541.0,48.5 542.5,49.7 542.5,49.7 541.0,51.2 539.5,51.7 538.0,52.0 536.5,52.2 535.0,52.4 533.5,52.4 532.0,52.5 530.5,52.5 529.0,52.5 527.5,52.5 526.0,52.4 524.5,52.4 523.0,52.2 521.5,52.0 520.0,51.7 518.5,51.2 517.0,49.7" fill="#000" filter="url(#b05)"/>
<polygon points="543.0,50.1 544.6,49.0 546.1,48.9 547.7,48.9 549.3,49.0 550.9,49.0 552.5,49.0 554.0,49.0 555.6,48.9 557.2,48.7 558.8,48.5 560.3,48.2 561.9,47.9 563.5,47.5 565.1,47.2 566.6,47.1 568.2,47.9 568.2,47.9 566.6,50.0 565.1,51.0 563.5,51.8 561.9,52.3 560.3,52.8 558.8,53.1 557.2,53.3 555.6,53.5 554.0,53.6 552.5,53.6 550.9,53.6 549.3,53.4 547.7,53.1 546.1,52.7 544.6,52.0 543.0,50.1" fill="#000" filter="url(#b05)"/>
<polygon points="570.5,48.4 572.0,47.6 573.5,47.3 575.0,47.2 576.5,47.1 578.0,47.1 579.5,47.1 581.0,47.1 582.5,47.1 584.0,47.1 585.5,47.1 587.0,47.1 588.5,47.1 590.0,47.2 591.5,47.3 593.0,47.6 594.5,48.4 594.5,48.4 593.0,49.2 591.5,49.5 590.0,49.6 588.5,49.7 587.0,49.7 585.5,49.7 584.0,49.7 582.5,49.7 581.0,49.7 579.5,49.7 578.0,49.7 576.5,49.7 575.0,49.6 573.5,49.5 572.0,49.2 570.5,48.4" fill="#000" filter="url(#b05)"/>
<polygon points="596.5,49.3 598.0,47.4 599.5,46.9 601.0,46.6 602.5,46.4 604.0,46.3 605.5,46.2 607.0,46.2 608.5,46.2 610.0,46.2 611.5,46.2 613.0,46.2 614.5,46.2 616.0,46.2 617.5,46.3 619.0,46.4 620.5,46.6 622.0,46.9 623.5,47.4 625.0,49.3 625.0,49.3 623.5,51.2 622.0,51.7 620.5,52.0 619.0,52.2 617.5,52.3 616.0,52.4 614.5,52.4 613.0,52.4 611.5,52.4 610.0,52.4 608.5,52.4 607.0,52.4 605.5,52.4 604.0,52.3 602.5,52.2 601.0,52.0 599.5,51.7 598.0,51.2 596.5,49.3" fill="#000" filter="url(#b05)"/>
<polygon points="624.5,49.0 626.0,47.8 627.5,47.5 629.0,47.4 630.5,47.3 632.0,47.3 633.5,47.4 635.0,47.4 636.5,47.4 638.0,47.4 639.5,47.4 641.0,47.4 642.5,47.3 644.0,47.3 645.5,47.4 647.0,47.5 648.5,47.8 650.0,49.0 650.0,49.0 648.5,50.4 647.0,50.9 645.5,51.2 644.0,51.4 642.5,51.5 641.0,51.5 639.5,51.6 638.0,51.6 636.5,51.6 635.0,51.6 633.5,51.5 632.0,51.5 630.5,51.4 629.0,51.2 627.5,50.9 626.0,50.4 624.5,49.0" fill="#000" filter="url(#b05)"/>
<polygon points="652.0,49.1 653.5,47.7 655.1,47.4 656.6,47.2 658.1,47.1 659.7,47.1 661.2,47.1 662.7,47.1 664.3,47.1 665.8,47.1 667.3,47.1 668.9,47.1 670.4,47.2 671.9,47.4 673.5,47.7 675.0,49.1 675.0,49.1 673.5,50.5 671.9,50.8 670.4,51.0 668.9,51.1 667.3,51.1 665.8,51.1 664.3,51.1 662.7,51.1 661.2,51.1 659.7,51.1 658.1,51.1 656.6,51.0 655.1,50.8 653.5,50.5 652.0,49.1" fill="#000" filter="url(#b05)"/>
<polygon points="440.0,51.0 670.0,49.0 670.0,50.0 440.0,52.0" fill="#000" opacity="0.55" filter="url(#b05)"/>
</g>
<text x="18.6" y="233.8" font-size="13">C</text>
<text x="70.0" y="243.0" font-size="8.4" text-anchor="middle">marker</text>
<text x="101.1" y="243.0" font-size="8.4" text-anchor="middle">control</text>
<text x="126.1" y="243.0" font-size="8.4" text-anchor="middle">3 h</text>
<text x="145.5" y="243.0" font-size="8.4" text-anchor="middle">6 h</text>
<text x="169.5" y="243.0" font-size="8.4" text-anchor="middle">12 h</text>
<text x="197.2" y="243.0" font-size="8.4" text-anchor="middle">48 h</text>
<text x="223.2" y="243.0" font-size="8.4" text-anchor="middle">24 h</text>
<text x="246.3" y="243.0" font-size="8.4" text-anchor="middle">p+</text>
<text x="272.7" y="243.0" font-size="8.4" text-anchor="middle">b+</text>
<text x="296.5" y="243.0" font-size="8.4" text-anchor="middle">s+</text>
<text x="40.0" y="262.3" font-size="8.6">p65</text>
<text x="32.2" y="281.0" font-size="8.3">β -actin</text>
<clipPath id="c5"><rect x="61.7" y="248.2" width="251.1" height="17.6"/></clipPath>
<g clip-path="url(#c5)"><rect x="61.7" y="248.2" width="251.1" height="17.6" fill="url(#gCp)"/>
<rect x="63" y="247" width="19" height="20" fill="#d8d8d8" opacity="0.35" filter="url(#b2)"/>
<rect x="112" y="247" width="21" height="20" fill="#d8d8d8" opacity="0.25" filter="url(#b2)"/>
<rect x="137" y="247" width="21" height="20" fill="#d8d8d8" opacity="0.2" filter="url(#b2)"/>
<rect x="161" y="247" width="21" height="20" fill="#d8d8d8" opacity="0.2" filter="url(#b2)"/>
<rect x="262" y="247" width="38" height="20" fill="#d8d8d8" opacity="0.2" filter="url(#b2)"/>
<polygon points="85.0,261.7 86.5,261.0 88.1,260.9 89.6,260.8 91.1,260.7 92.7,260.7 94.2,260.7 95.7,260.7 97.3,260.7 98.8,260.7 100.3,260.7 101.9,260.7 103.4,260.8 104.9,260.9 106.5,261.0 108.0,261.7 108.0,261.7 106.5,262.4 104.9,262.5 103.4,262.6 101.9,262.7 100.3,262.7 98.8,262.7 97.3,262.7 95.7,262.7 94.2,262.7 92.7,262.7 91.1,262.7 89.6,262.6 88.1,262.5 86.5,262.4 85.0,261.7" fill="#949494" filter="url(#b1)"/>
<polygon points="112.0,262.0 113.6,261.3 115.2,261.1 116.8,261.0 118.3,261.0 119.9,261.0 121.5,261.0 123.1,261.0 124.7,261.0 126.2,261.0 127.8,261.1 129.4,261.3 131.0,262.0 131.0,262.0 129.4,262.7 127.8,262.9 126.2,263.0 124.7,263.0 123.1,263.0 121.5,263.0 119.9,263.0 118.3,263.0 116.8,263.0 115.2,262.9 113.6,262.7 112.0,262.0" fill="#8c8c8c" filter="url(#b1)"/>
<polygon points="136.0,262.0 137.5,261.3 139.1,261.1 140.6,261.0 142.2,261.0 143.7,261.0 145.2,261.0 146.8,261.0 148.3,261.0 149.8,261.0 151.4,261.0 152.9,261.1 154.5,261.3 156.0,262.0 156.0,262.0 154.5,262.7 152.9,262.9 151.4,263.0 149.8,263.0 148.3,263.0 146.8,263.0 145.2,263.0 143.7,263.0 142.2,263.0 140.6,263.0 139.1,262.9 137.5,262.7 136.0,262.0" fill="#868686" filter="url(#b1)"/>
<polygon points="161.0,261.5 162.6,260.8 164.2,260.6 165.8,260.5 167.3,260.5 168.9,260.5 170.5,260.5 172.1,260.5 173.7,260.5 175.2,260.5 176.8,260.6 178.4,260.8 180.0,261.5 180.0,261.5 178.4,262.2 176.8,262.4 175.2,262.5 173.7,262.5 172.1,262.5 170.5,262.5 168.9,262.5 167.3,262.5 165.8,262.5 164.2,262.4 162.6,262.2 161.0,261.5" fill="#8a8a8a" filter="url(#b1)"/>
<polygon points="215.0,260.0 216.5,259.3 218.1,259.1 219.6,259.0 221.2,259.0 222.7,259.0 224.3,259.0 225.8,259.0 227.4,259.0 228.9,259.1 230.5,259.3 232.0,260.0 232.0,260.0 230.5,260.7 228.9,260.9 227.4,261.0 225.8,261.0 224.3,261.0 222.7,261.0 221.2,261.0 219.6,261.0 218.1,260.9 216.5,260.7 215.0,260.0" fill="#929292" filter="url(#b1)"/>
<rect x="312" y="259" width="0.8" height="7" fill="#333"/>
<rect x="61.7" y="248.2" width="251.1" height="17.6" filter="url(#nz)" opacity="0.08"/>
<rect x="61.7" y="248.2" width="251.1" height="17.6" filter="url(#nzw)" opacity="0.08"/>
</g>
<clipPath id="c6"><rect x="61.6" y="273.7" width="249.4" height="14.0"/></clipPath>
<g clip-path="url(#c6)"><rect x="61.6" y="273.7" width="249.4" height="14.0" fill="url(#gCb)"/>
<rect x="262" y="276" width="50" height="12" fill="#7c7c7c" filter="url(#b2)"/>
<rect x="61" y="284" width="210" height="4" fill="#7a7a7a" opacity="0.6" filter="url(#b1)"/>
<polygon points="61.0,279.1 62.5,277.8 64.1,277.7 65.6,277.7 67.1,277.7 68.6,277.7 70.2,277.7 71.7,277.7 73.2,277.7 74.7,277.7 76.3,277.8 77.8,279.1 77.8,279.1 76.3,280.4 74.7,280.5 73.2,280.5 71.7,280.5 70.2,280.5 68.6,280.5 67.1,280.5 65.6,280.5 64.1,280.5 62.5,280.4 61.0,279.1" fill="#0a0a0a" filter="url(#b05)"/>
<polygon points="77.5,280.6 78.4,280.5 79.4,280.4 80.4,280.2 81.4,280.1 82.4,280.0 83.4,279.9 84.4,279.8 85.4,279.7 86.4,279.6 87.4,279.5 88.4,279.5 89.4,279.4 90.4,279.4 91.4,279.3 92.4,279.3 93.4,279.3 94.4,279.3 95.4,279.3 96.4,279.3 97.4,279.3 98.4,279.4 99.4,279.4 100.4,279.5 101.4,279.5 102.4,279.6 103.4,279.7 104.4,279.8 105.4,279.9 106.4,280.0 107.4,280.1 108.4,280.2 109.4,280.4 110.4,280.5 110.4,280.4 111.4,280.2 112.4,280.0 113.5,279.9 114.5,279.7 115.5,279.6 116.5,279.5 117.6,279.4 118.6,279.3 119.6,279.2 120.6,279.2 121.7,279.1 122.7,279.1 123.7,279.1 124.7,279.1 125.8,279.2 126.8,279.2 127.8,279.3 128.8,279.4 129.9,279.5 130.9,279.6 131.9,279.7 132.9,279.9 134.0,280.0 135.0,280.2 136.0,280.4 136.0,280.6 137.0,280.4 138.1,280.2 139.1,280.0 140.1,279.9 141.2,279.7 142.2,279.6 143.2,279.5 144.3,279.4 145.3,279.4 146.3,279.3 147.4,279.3 148.4,279.3 149.4,279.3 150.5,279.3 151.5,279.4 152.5,279.4 153.6,279.5 154.6,279.6 155.6,279.7 156.7,279.9 157.7,280.0 158.7,280.2 159.8,280.4 160.8,280.6 160.8,280.3 161.8,280.1 162.8,279.9 163.8,279.7 164.8,279.5 165.8,279.4 166.9,279.2 167.9,279.1 168.9,279.1 169.9,279.0 170.9,278.9 171.9,278.9 172.9,278.9 173.9,278.9 174.9,278.9 175.9,279.0 176.9,279.1 177.9,279.1 178.9,279.2 180.0,279.4 181.0,279.5 182.0,279.7 183.0,279.9 184.0,280.1 185.0,280.3 185.0,279.7 186.0,279.5 187.0,279.3 188.0,279.1 189.0,278.9 190.0,278.8 191.0,278.6 192.0,278.5 193.0,278.4 194.0,278.3 195.0,278.3 196.0,278.2 197.0,278.2 198.0,278.2 199.0,278.2 200.0,278.2 201.0,278.3 202.0,278.3 203.0,278.4 204.0,278.5 205.0,278.6 206.0,278.8 207.0,278.9 208.0,279.1 209.0,279.3 210.0,279.5 211.0,279.7 211.0,280.7 212.0,280.6 213.0,280.5 214.0,280.4 215.0,280.3 216.0,280.2 217.0,280.1 218.0,280.1 219.0,280.0 220.0,280.0 221.0,279.9 222.0,279.9 223.0,279.9 224.0,279.9 225.0,279.9 226.0,279.9 227.0,280.0 228.0,280.0 229.0,280.1 230.0,280.1 231.0,280.2 232.0,280.3 233.0,280.4 234.0,280.5 235.0,280.6 236.0,280.7 238.0,281.5 241.0,280.5 250.0,279.8 260.0,280.0 262.0,280.3 266.0,279.3 272.0,277.5 280.0,275.6 287.0,274.4 293.0,273.6 312.0,273.2 312.0,275.3 293.0,275.8 287.0,276.8 280.0,278.8 272.0,280.8 266.0,282.0 262.0,282.6 260.0,283.0 250.0,283.2 241.0,283.8 238.0,284.6 236.0,285.4 235.0,285.1 234.0,284.8 233.0,284.6 232.0,284.4 231.0,284.2 230.0,284.0 229.0,283.9 228.0,283.8 227.0,283.8 226.0,283.7 225.0,283.7 224.0,283.7 223.0,283.7 222.0,283.7 221.0,283.7 220.0,283.8 219.0,283.8 218.0,283.9 217.0,284.0 216.0,284.2 215.0,284.4 214.0,284.6 213.0,284.8 212.0,285.1 211.0,285.4 211.0,284.4 210.0,284.0 209.0,283.6 208.0,283.3 207.0,283.0 206.0,282.8 205.0,282.6 204.0,282.4 203.0,282.3 202.0,282.2 201.0,282.1 200.0,282.0 199.0,282.0 198.0,282.0 197.0,282.0 196.0,282.0 195.0,282.1 194.0,282.2 193.0,282.3 192.0,282.4 191.0,282.6 190.0,282.8 189.0,283.0 188.0,283.3 187.0,283.6 186.0,284.0 185.0,284.4 185.0,285.0 184.0,284.6 183.0,284.2 182.0,283.9 181.0,283.6 180.0,283.4 178.9,283.2 177.9,283.0 176.9,282.9 175.9,282.8 174.9,282.7 173.9,282.7 172.9,282.7 171.9,282.7 170.9,282.7 169.9,282.8 168.9,282.9 167.9,283.0 166.9,283.2 165.8,283.4 164.8,283.6 163.8,283.9 162.8,284.2 161.8,284.6 160.8,285.0 160.8,285.3 159.8,284.9 158.7,284.5 157.7,284.2 156.7,283.9 155.6,283.7 154.6,283.5 153.6,283.4 152.5,283.3 151.5,283.2 150.5,283.1 149.4,283.1 148.4,283.1 147.4,283.1 146.3,283.1 145.3,283.2 144.3,283.3 143.2,283.4 142.2,283.5 141.2,283.7 140.1,283.9 139.1,284.2 138.1,284.5 137.0,284.9 136.0,285.3 136.0,285.1 135.0,284.7 134.0,284.4 132.9,284.0 131.9,283.8 130.9,283.6 129.9,283.4 128.8,283.2 127.8,283.1 126.8,283.0 125.8,283.0 124.7,282.9 123.7,282.9 122.7,282.9 121.7,282.9 120.6,283.0 119.6,283.0 118.6,283.1 117.6,283.2 116.5,283.4 115.5,283.6 114.5,283.8 113.5,284.0 112.4,284.4 111.4,284.7 110.4,285.1 110.4,285.0 109.4,284.7 108.4,284.4 107.4,284.2 106.4,284.0 105.4,283.8 104.4,283.6 103.4,283.4 102.4,283.3 101.4,283.2 100.4,283.1 99.4,283.0 98.4,283.0 97.4,282.9 96.4,282.9 95.4,282.9 94.4,282.9 93.4,282.9 92.4,282.9 91.4,282.9 90.4,283.0 89.4,283.0 88.4,283.1 87.4,283.2 86.4,283.3 85.4,283.4 84.4,283.6 83.4,283.8 82.4,284.0 81.4,284.2 80.4,284.4 79.4,284.7 78.4,285.0 77.5,282.4" fill="#0a0a0a" filter="url(#b05)"/>
<rect x="61.6" y="273.7" width="249.4" height="14.0" filter="url(#nz)" opacity="0.18"/>
<rect x="61.6" y="273.7" width="249.4" height="14.0" filter="url(#nzw)" opacity="0.1"/>
</g>
<text x="376.3" y="233.6" font-size="13">D</text>
<text x="416.6" y="244.4" font-size="8.2" text-anchor="middle">marker</text>
<text x="444.9" y="244.4" font-size="8.2" text-anchor="middle">control</text>
<text x="469.3" y="244.4" font-size="8.2" text-anchor="middle">3 h</text>
<text x="492.6" y="244.4" font-size="8.2" text-anchor="middle">6 h</text>
<text x="518.3" y="244.4" font-size="8.2" text-anchor="middle">12 h</text>
<text x="541.1" y="244.4" font-size="8.2" text-anchor="middle">24 h</text>
<text x="565.0" y="244.4" font-size="8.2" text-anchor="middle">48 h</text>
<text x="589.4" y="244.4" font-size="8.2" text-anchor="middle">p+</text>
<text x="611.3" y="244.4" font-size="8.2" text-anchor="middle">b+</text>
<text x="634.5" y="244.4" font-size="8.2" text-anchor="middle">s+</text>
<text x="386.8" y="260.3" font-size="8.6">p65</text>
<text x="379.4" y="279.0" font-size="8.2">β -actin</text>
<clipPath id="c7"><rect x="408.4" y="249.4" width="245.6" height="17.8"/></clipPath>
<g clip-path="url(#c7)"><rect x="408.4" y="249.4" width="245.6" height="17.8" fill="url(#gDp)"/>
<polygon points="411.0,252.3 412.6,250.7 414.1,250.5 415.7,250.4 417.3,250.4 418.9,250.4 420.4,250.4 422.0,250.4 423.6,250.4 425.2,250.5 426.7,250.7 428.3,252.3 428.3,252.3 426.7,253.9 425.2,254.1 423.6,254.2 422.0,254.2 420.4,254.2 418.9,254.2 417.3,254.2 415.7,254.2 414.1,254.1 412.6,253.9 411.0,252.3" fill="#000" filter="url(#b05)"/>
<polygon points="433.4,261.0 435.0,260.3 436.6,260.1 438.2,260.1 439.8,260.1 441.4,260.1 442.9,260.1 444.5,260.1 446.1,260.1 447.7,260.1 449.3,260.1 450.9,260.3 452.5,261.0 452.5,261.0 450.9,261.7 449.3,261.9 447.7,261.9 446.1,261.9 444.5,261.9 442.9,261.9 441.4,261.9 439.8,261.9 438.2,261.9 436.6,261.9 435.0,261.7 433.4,261.0" fill="#222" filter="url(#b05)"/>
<polygon points="458.8,260.6 460.3,260.0 461.8,259.8 463.4,259.7 464.9,259.7 466.4,259.7 467.9,259.7 469.4,259.7 470.9,259.7 472.4,259.7 474.0,259.8 475.5,260.0 477.0,260.6 477.0,260.6 475.5,261.2 474.0,261.4 472.4,261.5 470.9,261.5 469.4,261.5 467.9,261.5 466.4,261.5 464.9,261.5 463.4,261.5 461.8,261.4 460.3,261.2 458.8,260.6" fill="#242424" filter="url(#b05)"/>
<polygon points="484.0,260.5 485.5,259.8 487.1,259.7 488.6,259.6 490.2,259.6 491.7,259.6 493.3,259.6 494.8,259.6 496.4,259.6 497.9,259.7 499.5,259.8 501.0,260.5 501.0,260.5 499.5,261.2 497.9,261.3 496.4,261.4 494.8,261.4 493.3,261.4 491.7,261.4 490.2,261.4 488.6,261.4 487.1,261.3 485.5,261.2 484.0,260.5" fill="#242424" filter="url(#b05)"/>
<polygon points="507.0,259.1 508.5,258.4 510.1,258.3 511.6,258.2 513.2,258.2 514.7,258.2 516.3,258.2 517.8,258.2 519.4,258.2 520.9,258.3 522.5,258.4 524.0,259.1 524.0,259.1 522.5,259.8 520.9,259.9 519.4,260.0 517.8,260.0 516.3,260.0 514.7,260.0 513.2,260.0 511.6,260.0 510.1,259.9 508.5,259.8 507.0,259.1" fill="#222" filter="url(#b05)"/>
<polygon points="530.5,259.1 532.1,258.4 533.7,258.2 535.3,258.1 536.9,258.1 538.5,258.1 540.0,258.1 541.6,258.1 543.2,258.1 544.8,258.2 546.4,258.4 548.0,259.1 548.0,259.1 546.4,259.8 544.8,260.0 543.2,260.1 541.6,260.1 540.0,260.1 538.5,260.1 536.9,260.1 535.3,260.1 533.7,260.0 532.1,259.8 530.5,259.1" fill="#0c0c0c" filter="url(#b05)"/>
<polygon points="556.0,259.0 557.6,258.4 559.2,258.3 560.8,258.2 562.4,258.2 564.0,258.2 565.6,258.2 567.2,258.2 568.8,258.3 570.4,258.4 572.0,259.0 572.0,259.0 570.4,259.6 568.8,259.7 567.2,259.8 565.6,259.8 564.0,259.8 562.4,259.8 560.8,259.8 559.2,259.7 557.6,259.6 556.0,259.0" fill="#424242" filter="url(#b05)"/>
<polygon points="580.0,259.4 581.5,258.8 583.0,258.7 584.5,258.6 586.0,258.6 587.5,258.6 589.0,258.6 590.5,258.6 592.0,258.7 593.5,258.8 595.0,259.4 595.0,259.4 593.5,260.0 592.0,260.1 590.5,260.2 589.0,260.2 587.5,260.2 586.0,260.2 584.5,260.2 583.0,260.1 581.5,260.0 580.0,259.4" fill="#3a3a3a" filter="url(#b05)"/>
<polygon points="603.0,259.1 604.5,258.5 606.1,258.3 607.6,258.3 609.2,258.3 610.7,258.3 612.3,258.3 613.8,258.3 615.4,258.3 616.9,258.3 618.5,258.5 620.0,259.1 620.0,259.1 618.5,259.7 616.9,259.9 615.4,259.9 613.8,259.9 612.3,259.9 610.7,259.9 609.2,259.9 607.6,259.9 606.1,259.9 604.5,259.7 603.0,259.1" fill="#2a2a2a" filter="url(#b05)"/>
<polygon points="628.0,259.2 629.5,258.6 631.1,258.5 632.6,258.4 634.2,258.4 635.7,258.4 637.3,258.4 638.8,258.4 640.4,258.4 641.9,258.5 643.5,258.6 645.0,259.2 645.0,259.2 643.5,259.8 641.9,259.9 640.4,260.0 638.8,260.0 637.3,260.0 635.7,260.0 634.2,260.0 632.6,260.0 631.1,259.9 629.5,259.8 628.0,259.2" fill="#3a3a3a" filter="url(#b05)"/>
<circle cx="637.3" cy="259" r="0.8" fill="#111"/>
<rect x="408.4" y="249.4" width="245.6" height="17.8" filter="url(#nz)" opacity="0.2"/>
<rect x="408.4" y="249.4" width="245.6" height="17.8" filter="url(#nzw)" opacity="0.09"/>
</g>
<clipPath id="c8"><rect x="408.4" y="272.7" width="245.6" height="13.1"/></clipPath>
<g clip-path="url(#c8)"><rect x="408.4" y="272.7" width="245.6" height="13.1" fill="url(#gDb)"/>
<polygon points="413.0,276.6 414.6,275.1 416.3,274.8 417.9,274.8 419.5,274.8 421.1,274.8 422.8,274.8 424.4,274.8 426.0,274.8 427.7,275.1 429.3,276.6 429.3,276.6 427.7,278.1 426.0,278.4 424.4,278.4 422.8,278.4 421.1,278.4 419.5,278.4 417.9,278.4 416.3,278.4 414.6,278.1 413.0,276.6" fill="#2c2c2c" filter="url(#b05)"/>
<polygon points="432.4,280.1 434.0,278.4 435.5,277.7 437.1,277.2 438.7,276.8 440.2,276.6 441.8,276.4 443.4,276.3 444.9,276.3 446.5,276.3 448.1,276.4 449.7,276.6 451.2,276.8 452.8,277.2 454.4,277.7 455.9,278.4 457.5,280.1 457.5,280.1 455.9,281.1 454.4,281.2 452.8,281.2 451.2,281.1 449.7,281.0 448.1,281.0 446.5,280.9 444.9,280.9 443.4,280.9 441.8,281.0 440.2,281.0 438.7,281.1 437.1,281.2 435.5,281.2 434.0,281.1 432.4,280.1" fill="#222" filter="url(#b05)"/>
<polygon points="458.2,279.5 459.8,277.8 461.3,277.1 462.9,276.5 464.5,276.2 466.1,276.0 467.6,275.8 469.2,275.8 470.8,275.8 472.4,275.8 473.9,276.0 475.5,276.2 477.1,276.5 478.7,277.1 480.2,277.8 481.8,279.5 481.8,279.5 480.2,280.5 478.7,280.6 477.1,280.5 475.5,280.5 473.9,280.4 472.4,280.3 470.8,280.3 469.2,280.3 467.6,280.3 466.1,280.4 464.5,280.5 462.9,280.5 461.3,280.6 459.8,280.5 458.2,279.5" fill="#222" filter="url(#b05)"/>
<polygon points="482.8,279.1 484.4,277.3 486.0,276.5 487.6,276.0 489.1,275.7 490.7,275.4 492.3,275.3 493.9,275.3 495.5,275.3 497.1,275.4 498.7,275.7 500.2,276.0 501.8,276.5 503.4,277.3 505.0,279.1 505.0,279.1 503.4,280.1 501.8,280.2 500.2,280.2 498.7,280.1 497.1,280.0 495.5,279.9 493.9,279.9 492.3,279.9 490.7,280.0 489.1,280.1 487.6,280.2 486.0,280.2 484.4,280.1 482.8,279.1" fill="#222" filter="url(#b05)"/>
<polygon points="506.3,278.3 507.9,275.9 509.5,274.9 511.0,274.2 512.6,273.8 514.2,273.5 515.8,273.3 517.4,273.2 518.9,273.2 520.5,273.3 522.1,273.5 523.7,273.8 525.3,274.2 526.8,274.9 528.4,275.9 530.0,278.3 530.0,278.3 528.4,279.8 526.8,280.0 525.3,280.1 523.7,280.0 522.1,279.9 520.5,279.9 518.9,279.8 517.4,279.8 515.8,279.9 514.2,279.9 512.6,280.0 511.0,280.1 509.5,280.0 507.9,279.8 506.3,278.3" fill="#222" filter="url(#b05)"/>
<polygon points="531.0,277.3 532.5,275.4 534.0,274.7 535.5,274.1 537.0,273.8 538.5,273.5 540.0,273.4 541.5,273.3 543.1,273.3 544.6,273.4 546.1,273.5 547.6,273.8 549.1,274.1 550.6,274.7 552.1,275.4 553.6,277.3 553.6,277.3 552.1,278.4 550.6,278.6 549.1,278.6 547.6,278.5 546.1,278.4 544.6,278.3 543.1,278.3 541.5,278.3 540.0,278.3 538.5,278.4 537.0,278.5 535.5,278.6 534.0,278.6 532.5,278.4 531.0,277.3" fill="#222" filter="url(#b05)"/>
<polygon points="554.5,278.3 556.0,276.3 557.5,275.4 559.0,274.9 560.5,274.5 562.0,274.3 563.5,274.1 565.0,274.1 566.6,274.1 568.1,274.3 569.6,274.5 571.1,274.9 572.6,275.4 574.1,276.3 575.6,278.3 575.6,278.3 574.1,279.5 572.6,279.7 571.1,279.7 569.6,279.7 568.1,279.6 566.6,279.5 565.0,279.5 563.5,279.5 562.0,279.6 560.5,279.7 559.0,279.7 557.5,279.7 556.0,279.5 554.5,278.3" fill="#222" filter="url(#b05)"/>
<polygon points="577.5,279.8 579.0,278.4 580.5,277.8 582.1,277.4 583.6,277.1 585.1,276.9 586.6,276.8 588.1,276.7 589.6,276.7 591.2,276.7 592.7,276.8 594.2,276.9 595.7,277.1 597.2,277.4 598.8,277.8 600.3,278.4 601.8,279.8 601.8,279.8 600.3,280.8 598.8,281.0 597.2,281.0 595.7,281.0 594.2,281.0 592.7,280.9 591.2,280.9 589.6,280.9 588.1,280.9 586.6,280.9 585.1,281.0 583.6,281.0 582.1,281.0 580.5,281.0 579.0,280.8 577.5,279.8" fill="#222" filter="url(#b05)"/>
<polygon points="602.8,279.4 604.3,277.6 605.8,276.9 607.3,276.4 608.8,276.1 610.3,275.8 611.8,275.7 613.3,275.6 614.8,275.6 616.3,275.6 617.8,275.7 619.3,275.8 620.8,276.1 622.3,276.4 623.8,276.9 625.3,277.6 626.8,279.4 626.8,279.4 625.3,280.6 623.8,280.9 622.3,280.9 620.8,280.9 619.3,280.9 617.8,280.9 616.3,280.8 614.8,280.8 613.3,280.8 611.8,280.9 610.3,280.9 608.8,280.9 607.3,280.9 605.8,280.9 604.3,280.6 602.8,279.4" fill="#222" filter="url(#b05)"/>
<polygon points="626.2,278.8 627.7,276.9 629.2,276.1 630.7,275.6 632.2,275.3 633.8,275.0 635.3,274.9 636.8,274.8 638.3,274.8 639.8,274.8 641.3,274.9 642.8,275.0 644.4,275.3 645.9,275.6 647.4,276.1 648.9,276.9 650.4,278.8 650.4,278.8 648.9,280.1 647.4,280.4 645.9,280.5 644.4,280.5 642.8,280.5 641.3,280.5 639.8,280.4 638.3,280.4 636.8,280.4 635.3,280.5 633.8,280.5 632.2,280.5 630.7,280.5 629.2,280.4 627.7,280.1 626.2,278.8" fill="#222" filter="url(#b05)"/>
<rect x="408.4" y="272.7" width="245.6" height="13.1" filter="url(#nz)" opacity="0.2"/>
<rect x="408.4" y="272.7" width="245.6" height="13.1" filter="url(#nzw)" opacity="0.14"/>
</g>
<g>
<rect x="61.30" y="180.95" width="9.20" height="4.55" fill="#858585" stroke="#4c4c4c" stroke-width="0.8"/>
<text x="65.9" y="197.0" font-size="6.9" text-anchor="middle" class="s">p</text>
<rect x="84.30" y="170.55" width="9.20" height="14.95" fill="#858585" stroke="#4c4c4c" stroke-width="0.8"/>
<path d="M88.90 170.55V169.47M86.90 169.47H90.90" stroke="#444" stroke-width="0.9" fill="none"/>
<text x="88.9" y="197.0" font-size="6.9" text-anchor="middle" class="s">b</text>
<rect x="107.30" y="171.85" width="9.20" height="13.65" fill="#858585" stroke="#4c4c4c" stroke-width="0.8"/>
<path d="M111.90 171.85V170.99M109.90 170.99H113.90" stroke="#444" stroke-width="0.9" fill="none"/>
<text x="111.9" y="197.0" font-size="6.9" text-anchor="middle" class="s">s</text>
<rect x="130.30" y="163.62" width="9.20" height="21.88" fill="#858585" stroke="#4c4c4c" stroke-width="0.8"/>
<path d="M134.90 163.62V159.51M132.90 159.51H136.90" stroke="#444" stroke-width="0.9" fill="none"/>
<text x="134.9" y="197.0" font-size="6.9" text-anchor="middle" class="s">p +</text>
<rect x="153.30" y="149.54" width="9.20" height="35.96" fill="#858585" stroke="#4c4c4c" stroke-width="0.8"/>
<path d="M157.90 149.54V146.51M155.90 146.51H159.90" stroke="#444" stroke-width="0.9" fill="none"/>
<text x="157.9" y="197.0" font-size="6.9" text-anchor="middle" class="s">b +</text>
<rect x="176.30" y="147.59" width="9.20" height="37.91" fill="#858585" stroke="#4c4c4c" stroke-width="0.8"/>
<path d="M180.90 147.59V145.86M178.90 145.86H182.90" stroke="#444" stroke-width="0.9" fill="none"/>
<text x="180.9" y="197.0" font-size="6.9" text-anchor="middle" class="s">s +</text>
<rect x="199.30" y="142.18" width="9.20" height="43.32" fill="#858585" stroke="#4c4c4c" stroke-width="0.8"/>
<path d="M203.90 142.18V137.41M201.90 137.41H205.90" stroke="#444" stroke-width="0.9" fill="none"/>
<text x="203.9" y="197.0" font-size="6.9" text-anchor="middle" class="s">control</text>
<rect x="222.30" y="125.94" width="9.20" height="59.56" fill="#858585" stroke="#4c4c4c" stroke-width="0.8"/>
<path d="M226.90 125.94V122.25M224.90 122.25H228.90" stroke="#444" stroke-width="0.9" fill="none"/>
<text x="226.9" y="197.0" font-size="6.9" text-anchor="middle" class="s">3 h</text>
<rect x="245.30" y="129.18" width="9.20" height="56.32" fill="#858585" stroke="#4c4c4c" stroke-width="0.8"/>
<path d="M249.90 129.18V125.29M247.90 125.29H251.90" stroke="#444" stroke-width="0.9" fill="none"/>
<text x="249.9" y="197.0" font-size="6.9" text-anchor="middle" class="s">6 h</text>
<rect x="268.30" y="101.68" width="9.20" height="83.82" fill="#858585" stroke="#4c4c4c" stroke-width="0.8"/>
<path d="M272.90 101.68V91.50M270.90 91.50H274.90" stroke="#444" stroke-width="0.9" fill="none"/>
<text x="272.9" y="197.0" font-size="6.9" text-anchor="middle" class="s">12 h</text>
<rect x="291.30" y="107.09" width="9.20" height="78.41" fill="#858585" stroke="#4c4c4c" stroke-width="0.8"/>
<path d="M295.90 107.09V96.26M293.90 96.26H297.90" stroke="#444" stroke-width="0.9" fill="none"/>
<text x="295.9" y="197.0" font-size="6.9" text-anchor="middle" class="s">24 h</text>
<rect x="314.30" y="161.67" width="9.20" height="23.83" fill="#858585" stroke="#4c4c4c" stroke-width="0.8"/>
<path d="M318.90 161.67V159.29M316.90 159.29H320.90" stroke="#444" stroke-width="0.9" fill="none"/>
<text x="318.9" y="197.0" font-size="6.9" text-anchor="middle" class="s">48 h</text>
<path d="M54.50 77.20V185.50H331.00" stroke="#444" stroke-width="1" fill="none"/>
<text x="47.5" y="187.7" font-size="7" text-anchor="end" class="s">0.0</text>
<text x="47.5" y="166.0" font-size="7" text-anchor="end" class="s">0.5</text>
<text x="47.5" y="144.4" font-size="7" text-anchor="end" class="s">1.0</text>
<text x="47.5" y="122.7" font-size="7" text-anchor="end" class="s">1.5</text>
<text x="47.5" y="101.1" font-size="7" text-anchor="end" class="s">2.0</text>
<text x="47.5" y="79.4" font-size="7" text-anchor="end" class="s">2.5</text>
<path d="M54.50 185.50h2M54.50 163.84h2M54.50 142.18h2M54.50 120.52h2M54.50 98.86h2M54.50 77.20h2M77.40 185.50v-2M100.40 185.50v-2M123.40 185.50v-2M146.40 185.50v-2M169.40 185.50v-2M192.40 185.50v-2M215.40 185.50v-2M238.40 185.50v-2M261.40 185.50v-2M284.40 185.50v-2M307.40 185.50v-2M330.40 185.50v-2" stroke="#3c3c3c" stroke-width="0.8" fill="none"/>
<text class="s" transform="translate(32.3 129.5) rotate(-90)" font-size="6.7" text-anchor="middle">Expression ratio</text>
<path d="M66.90 166.20l2.5 2.6l-2.5 2.6l-2.5-2.6z" fill="#111"/>
<path d="M89.90 153.20l2.5 2.6l-2.5 2.6l-2.5-2.6z" fill="#111"/>
<path d="M112.90 156.20l2.5 2.6l-2.5 2.6l-2.5-2.6z" fill="#111"/>
<polygon points="136.60,150.00 137.36,152.15 139.64,152.21 137.84,153.60 138.48,155.79 136.60,154.50 134.72,155.79 135.36,153.60 133.56,152.21 135.84,152.15" fill="#111"/>
<polygon points="159.70,134.80 160.46,136.95 162.74,137.01 160.94,138.40 161.58,140.59 159.70,139.30 157.82,140.59 158.46,138.40 156.66,137.01 158.94,136.95" fill="#111"/>
<polygon points="179.30,131.80 180.06,133.95 182.34,134.01 180.54,135.40 181.18,137.59 179.30,136.30 177.42,137.59 178.06,135.40 176.26,134.01 178.54,133.95" fill="#111"/>
</g>
<g>
<rect x="421.60" y="131.65" width="11.60" height="54.95" fill="#858585" stroke="#4c4c4c" stroke-width="0.8"/>
<path d="M427.40 131.65V122.31M425.40 122.31H429.40" stroke="#444" stroke-width="0.9" fill="none"/>
<text x="427.4" y="198.0" font-size="6.3" text-anchor="middle" class="s">control</text>
<rect x="451.27" y="111.59" width="11.60" height="75.01" fill="#858585" stroke="#4c4c4c" stroke-width="0.8"/>
<path d="M457.07 111.59V104.45M455.07 104.45H459.07" stroke="#444" stroke-width="0.9" fill="none"/>
<text x="457.1" y="198.0" font-size="6.3" text-anchor="middle" class="s">3 h</text>
<rect x="480.94" y="103.08" width="11.60" height="83.52" fill="#858585" stroke="#4c4c4c" stroke-width="0.8"/>
<path d="M486.74 103.08V91.54M484.74 91.54H488.74" stroke="#444" stroke-width="0.9" fill="none"/>
<text x="486.7" y="198.0" font-size="6.3" text-anchor="middle" class="s">6 h</text>
<rect x="510.61" y="121.76" width="11.60" height="64.84" fill="#858585" stroke="#4c4c4c" stroke-width="0.8"/>
<path d="M516.41 121.76V102.53M514.41 102.53H518.41" stroke="#444" stroke-width="0.9" fill="none"/>
<text x="516.4" y="198.0" font-size="6.3" text-anchor="middle" class="s">12 h</text>
<rect x="540.28" y="120.11" width="11.60" height="66.49" fill="#858585" stroke="#4c4c4c" stroke-width="0.8"/>
<path d="M546.08 120.11V114.62M544.08 114.62H548.08" stroke="#444" stroke-width="0.9" fill="none"/>
<text x="546.1" y="198.0" font-size="6.3" text-anchor="middle" class="s">24 h</text>
<rect x="569.95" y="165.99" width="11.60" height="20.61" fill="#858585" stroke="#4c4c4c" stroke-width="0.8"/>
<path d="M575.75 165.99V161.87M573.75 161.87H577.75" stroke="#444" stroke-width="0.9" fill="none"/>
<text x="575.8" y="198.0" font-size="6.3" text-anchor="middle" class="s">48 h</text>
<rect x="599.62" y="153.63" width="11.60" height="32.97" fill="#858585" stroke="#4c4c4c" stroke-width="0.8"/>
<path d="M605.42 153.63V149.51M603.42 149.51H607.42" stroke="#444" stroke-width="0.9" fill="none"/>
<text x="605.4" y="198.0" font-size="6.3" text-anchor="middle" class="s">p +</text>
<rect x="629.29" y="157.48" width="11.60" height="29.12" fill="#858585" stroke="#4c4c4c" stroke-width="0.8"/>
<path d="M635.09 157.48V153.36M633.09 153.36H637.09" stroke="#444" stroke-width="0.9" fill="none"/>
<text x="635.1" y="198.0" font-size="6.3" text-anchor="middle" class="s">b +</text>
<rect x="658.96" y="161.32" width="11.60" height="25.28" fill="#858585" stroke="#4c4c4c" stroke-width="0.8"/>
<path d="M664.76 161.32V158.03M662.76 158.03H666.76" stroke="#444" stroke-width="0.9" fill="none"/>
<text x="664.8" y="198.0" font-size="6.3" text-anchor="middle" class="s">s +</text>
<path d="M412.50 76.70V186.60H680.50" stroke="#444" stroke-width="1" fill="none"/>
<text x="405.6" y="188.2" font-size="6.9" text-anchor="end" class="s">0.0</text>
<text x="405.6" y="177.2" font-size="6.9" text-anchor="end" class="s">0.2</text>
<text x="405.6" y="166.2" font-size="6.9" text-anchor="end" class="s">0.4</text>
<text x="405.6" y="155.2" font-size="6.9" text-anchor="end" class="s">0.6</text>
<text x="405.6" y="144.2" font-size="6.9" text-anchor="end" class="s">0.8</text>
<text x="405.6" y="133.2" font-size="6.9" text-anchor="end" class="s">1.0</text>
<text x="405.6" y="122.3" font-size="6.9" text-anchor="end" class="s">1.2</text>
<text x="405.6" y="111.3" font-size="6.9" text-anchor="end" class="s">1.4</text>
<text x="405.6" y="100.3" font-size="6.9" text-anchor="end" class="s">1.6</text>
<text x="405.6" y="89.3" font-size="6.9" text-anchor="end" class="s">1.8</text>
<text x="405.6" y="78.3" font-size="6.9" text-anchor="end" class="s">2.0</text>
<path d="M412.50 186.60h2M412.50 175.61h2M412.50 164.62h2M412.50 153.63h2M412.50 142.64h2M412.50 131.65h2M412.50 120.66h2M412.50 109.67h2M412.50 98.68h2M412.50 87.69h2M412.50 76.70h2M442.23 186.60v-2M471.90 186.60v-2M501.57 186.60v-2M531.25 186.60v-2M560.91 186.60v-2M590.59 186.60v-2M620.25 186.60v-2M649.92 186.60v-2M679.60 186.60v-2" stroke="#3c3c3c" stroke-width="0.8" fill="none"/>
<text class="s" transform="translate(392.4 129.0) rotate(-90)" font-size="6.8" text-anchor="middle">Expression ratio</text>
<polygon points="607.42,139.30 608.18,141.45 610.46,141.51 608.66,142.90 609.30,145.09 607.42,143.80 605.54,145.09 606.18,142.90 604.38,141.51 606.66,141.45" fill="#111"/>
<polygon points="637.29,142.40 638.05,144.55 640.33,144.61 638.53,146.00 639.17,148.19 637.29,146.90 635.41,148.19 636.05,146.00 634.25,144.61 636.53,144.55" fill="#111"/>
<polygon points="664.06,148.80 664.82,150.95 667.10,151.01 665.30,152.40 665.94,154.59 664.06,153.30 662.18,154.59 662.82,152.40 661.02,151.01 663.30,150.95" fill="#111"/>
</g>
<g>
<rect x="69.65" y="366.78" width="11.50" height="42.72" fill="#858585" stroke="#4c4c4c" stroke-width="0.8"/>
<path d="M75.40 366.78V362.51M73.40 362.51H77.40" stroke="#444" stroke-width="0.9" fill="none"/>
<text x="75.4" y="421.0" font-size="6.3" text-anchor="middle" class="s">control</text>
<rect x="98.06" y="345.42" width="11.50" height="64.08" fill="#858585" stroke="#4c4c4c" stroke-width="0.8"/>
<path d="M103.81 345.42V334.74M101.81 334.74H105.81" stroke="#444" stroke-width="0.9" fill="none"/>
<text x="103.8" y="421.0" font-size="6.3" text-anchor="middle" class="s">3 h</text>
<rect x="126.47" y="336.88" width="11.50" height="72.62" fill="#858585" stroke="#4c4c4c" stroke-width="0.8"/>
<path d="M132.22 336.88V321.07M130.22 321.07H134.22" stroke="#444" stroke-width="0.9" fill="none"/>
<text x="132.2" y="421.0" font-size="6.3" text-anchor="middle" class="s">6 h</text>
<rect x="154.88" y="339.87" width="11.50" height="69.63" fill="#858585" stroke="#4c4c4c" stroke-width="0.8"/>
<path d="M160.63 339.87V325.77M158.63 325.77H162.63" stroke="#444" stroke-width="0.9" fill="none"/>
<text x="160.6" y="421.0" font-size="6.3" text-anchor="middle" class="s">12 h</text>
<rect x="183.29" y="400.96" width="11.50" height="8.54" fill="#858585" stroke="#4c4c4c" stroke-width="0.8"/>
<path d="M189.04 400.96V397.54M187.04 397.54H191.04" stroke="#444" stroke-width="0.9" fill="none"/>
<text x="189.0" y="421.0" font-size="6.3" text-anchor="middle" class="s">48 h</text>
<rect x="211.70" y="355.67" width="11.50" height="53.83" fill="#858585" stroke="#4c4c4c" stroke-width="0.8"/>
<path d="M217.45 355.67V350.55M215.45 350.55H219.45" stroke="#444" stroke-width="0.9" fill="none"/>
<text x="217.5" y="421.0" font-size="6.3" text-anchor="middle" class="s">24 h</text>
<rect x="240.11" y="394.55" width="11.50" height="14.95" fill="#858585" stroke="#4c4c4c" stroke-width="0.8"/>
<path d="M245.86 394.55V392.41M243.86 392.41H247.86" stroke="#444" stroke-width="0.9" fill="none"/>
<text x="245.9" y="421.0" font-size="6.3" text-anchor="middle" class="s">p +</text>
<rect x="268.52" y="388.14" width="11.50" height="21.36" fill="#858585" stroke="#4c4c4c" stroke-width="0.8"/>
<path d="M274.27 388.14V380.45M272.27 380.45H276.27" stroke="#444" stroke-width="0.9" fill="none"/>
<text x="274.3" y="421.0" font-size="6.3" text-anchor="middle" class="s">b +</text>
<rect x="296.93" y="391.13" width="11.50" height="18.37" fill="#858585" stroke="#4c4c4c" stroke-width="0.8"/>
<path d="M302.68 391.13V387.29M300.68 387.29H304.68" stroke="#444" stroke-width="0.9" fill="none"/>
<text x="302.7" y="421.0" font-size="6.3" text-anchor="middle" class="s">s +</text>
<path d="M61.50 302.70V409.50H318.20" stroke="#444" stroke-width="1" fill="none"/>
<text x="55.5" y="411.5" font-size="6.8" text-anchor="end" class="s">0.0</text>
<text x="55.5" y="390.1" font-size="6.8" text-anchor="end" class="s">0.5</text>
<text x="55.5" y="368.8" font-size="6.8" text-anchor="end" class="s">1.0</text>
<text x="55.5" y="347.4" font-size="6.8" text-anchor="end" class="s">1.5</text>
<text x="55.5" y="326.1" font-size="6.8" text-anchor="end" class="s">2.0</text>
<text x="55.5" y="304.7" font-size="6.8" text-anchor="end" class="s">2.5</text>
<path d="M61.50 409.50h2M61.50 388.14h2M61.50 366.78h2M61.50 345.42h2M61.50 324.06h2M61.50 302.70h2M89.61 409.50v-2M118.02 409.50v-2M146.43 409.50v-2M174.84 409.50v-2M203.25 409.50v-2M231.66 409.50v-2M260.06 409.50v-2M288.48 409.50v-2M316.88 409.50v-2" stroke="#3c3c3c" stroke-width="0.8" fill="none"/>
<text class="s" transform="translate(42.6 355.0) rotate(-90)" font-size="6.3" text-anchor="middle">Expression ratio</text>
<polygon points="246.96,379.10 247.72,381.25 250.00,381.31 248.20,382.70 248.84,384.89 246.96,383.60 245.08,384.89 245.72,382.70 243.92,381.31 246.20,381.25" fill="#111"/>
<polygon points="275.27,368.60 276.03,370.75 278.31,370.81 276.51,372.20 277.15,374.39 275.27,373.10 273.39,374.39 274.03,372.20 272.23,370.81 274.51,370.75" fill="#111"/>
<polygon points="303.48,375.40 304.24,377.55 306.52,377.61 304.72,379.00 305.36,381.19 303.48,379.90 301.60,381.19 302.24,379.00 300.44,377.61 302.72,377.55" fill="#111"/>
</g>
<g>
<rect x="415.30" y="368.26" width="11.50" height="43.24" fill="#858585" stroke="#4c4c4c" stroke-width="0.8"/>
<path d="M421.05 368.26V363.94M419.05 363.94H423.05" stroke="#444" stroke-width="0.9" fill="none"/>
<text x="421.1" y="423.2" font-size="6.3" text-anchor="middle" class="s">control</text>
<rect x="443.97" y="348.80" width="11.50" height="62.70" fill="#858585" stroke="#4c4c4c" stroke-width="0.8"/>
<path d="M449.72 348.80V343.18M447.72 343.18H451.72" stroke="#444" stroke-width="0.9" fill="none"/>
<text x="449.7" y="423.2" font-size="6.3" text-anchor="middle" class="s">3 h</text>
<rect x="472.64" y="349.23" width="11.50" height="62.27" fill="#858585" stroke="#4c4c4c" stroke-width="0.8"/>
<path d="M478.39 349.23V346.64M476.39 346.64H480.39" stroke="#444" stroke-width="0.9" fill="none"/>
<text x="478.4" y="423.2" font-size="6.3" text-anchor="middle" class="s">6 h</text>
<rect x="501.31" y="341.45" width="11.50" height="70.05" fill="#858585" stroke="#4c4c4c" stroke-width="0.8"/>
<path d="M507.06 341.45V331.94M505.06 331.94H509.06" stroke="#444" stroke-width="0.9" fill="none"/>
<text x="507.1" y="423.2" font-size="6.3" text-anchor="middle" class="s">12 h</text>
<rect x="529.98" y="330.21" width="11.50" height="81.29" fill="#858585" stroke="#4c4c4c" stroke-width="0.8"/>
<path d="M535.73 330.21V312.05M533.73 312.05H537.73" stroke="#444" stroke-width="0.9" fill="none"/>
<text x="535.7" y="423.2" font-size="6.3" text-anchor="middle" class="s">24 h</text>
<rect x="558.65" y="400.69" width="11.50" height="10.81" fill="#858585" stroke="#4c4c4c" stroke-width="0.8"/>
<path d="M564.40 400.69V396.37M562.40 396.37H566.40" stroke="#444" stroke-width="0.9" fill="none"/>
<text x="564.4" y="423.2" font-size="6.3" text-anchor="middle" class="s">48 h</text>
<rect x="587.32" y="397.66" width="11.50" height="13.84" fill="#858585" stroke="#4c4c4c" stroke-width="0.8"/>
<path d="M593.07 397.66V396.37M591.07 396.37H595.07" stroke="#444" stroke-width="0.9" fill="none"/>
<text x="593.1" y="423.2" font-size="6.3" text-anchor="middle" class="s">p +</text>
<rect x="615.99" y="391.18" width="11.50" height="20.32" fill="#858585" stroke="#4c4c4c" stroke-width="0.8"/>
<path d="M621.74 391.18V386.85M619.74 386.85H623.74" stroke="#444" stroke-width="0.9" fill="none"/>
<text x="621.7" y="423.2" font-size="6.3" text-anchor="middle" class="s">b +</text>
<rect x="644.66" y="395.07" width="11.50" height="16.43" fill="#858585" stroke="#4c4c4c" stroke-width="0.8"/>
<path d="M650.41 395.07V393.34M648.41 393.34H652.41" stroke="#444" stroke-width="0.9" fill="none"/>
<text x="650.4" y="423.2" font-size="6.3" text-anchor="middle" class="s">s +</text>
<path d="M406.50 303.40V411.50H665.50" stroke="#444" stroke-width="1" fill="none"/>
<text x="400.3" y="413.4" font-size="6.8" text-anchor="end" class="s">0.0</text>
<text x="400.3" y="391.8" font-size="6.8" text-anchor="end" class="s">0.5</text>
<text x="400.3" y="370.2" font-size="6.8" text-anchor="end" class="s">1.0</text>
<text x="400.3" y="348.5" font-size="6.8" text-anchor="end" class="s">1.5</text>
<text x="400.3" y="326.9" font-size="6.8" text-anchor="end" class="s">2.0</text>
<text x="400.3" y="305.3" font-size="6.8" text-anchor="end" class="s">2.5</text>
<path d="M406.50 411.50h2M406.50 389.88h2M406.50 368.26h2M406.50 346.64h2M406.50 325.02h2M406.50 303.40h2M435.38 411.50v-2M464.06 411.50v-2M492.73 411.50v-2M521.39 411.50v-2M550.07 411.50v-2M578.74 411.50v-2M607.40 411.50v-2M636.08 411.50v-2M664.75 411.50v-2" stroke="#3c3c3c" stroke-width="0.8" fill="none"/>
<text class="s" transform="translate(387.2 356.0) rotate(-90)" font-size="6.3" text-anchor="middle">Expression ratio</text>
<polygon points="591.87,383.30 592.63,385.45 594.91,385.51 593.11,386.90 593.75,389.09 591.87,387.80 589.99,389.09 590.63,386.90 588.83,385.51 591.11,385.45" fill="#111"/>
<polygon points="623.44,372.70 624.20,374.85 626.48,374.91 624.68,376.30 625.32,378.49 623.44,377.20 621.56,378.49 622.20,376.30 620.40,374.91 622.68,374.85" fill="#111"/>
<polygon points="651.21,376.30 651.97,378.45 654.25,378.51 652.45,379.90 653.09,382.09 651.21,380.80 649.33,382.09 649.97,379.90 648.17,378.51 650.45,378.45" fill="#111"/>
</g>
</svg></body></html>
